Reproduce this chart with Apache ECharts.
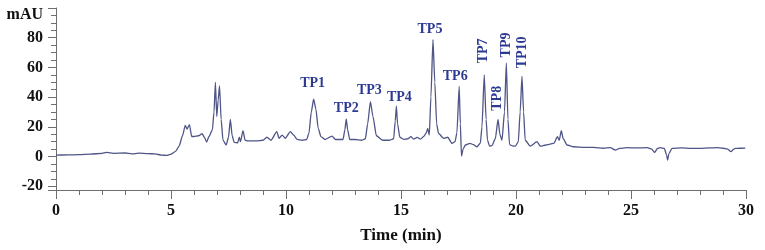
<!DOCTYPE html>
<html><head><meta charset="utf-8">
<script src="https://cdn.jsdelivr.net/npm/echarts@6/dist/echarts.min.js"></script>
<style>html,body{margin:0;padding:0;background:#fff}#c{width:765px;height:250px}#err{position:absolute;left:80px;top:0;font:10px monospace;color:red;white-space:pre}</style>
</head><body><div id="c"></div><div id="err"></div>
<script>
var errs = [];
function report(m){ errs.push(String(m)); document.getElementById('err').textContent = errs.join('\n'); }
window.onerror = function(msg){ report('E: ' + msg); };
var _ce = console.error; console.error = function(){ report('CE: ' + Array.prototype.join.call(arguments, ' ')); _ce.apply(console, arguments); };
var _cw = console.warn; console.warn = function(){ report('CW: ' + Array.prototype.join.call(arguments, ' ')); _cw.apply(console, arguments); };

// Chromatogram trace: retention time (min) and absorbance (mAU)
var times = [0,0.5,1.0,1.5,2.0,2.2,2.5,3.0,3.3,3.6,4.0,4.3,4.6,4.8,5.0,5.2,5.35,5.5,5.62,5.7,5.8,5.9,6.0,6.2,6.35,6.45,6.55,6.65,6.8,6.87,6.93,6.99,7.05,7.11,7.18,7.26,7.4,7.5,7.58,7.66,7.75,7.9,7.97,8.02,8.13,8.22,8.35,8.7,9.0,9.17,9.35,9.6,9.7,9.83,9.97,10.19,10.33,10.48,10.7,10.9,11.0,11.1,11.2,11.3,11.4,11.52,11.7,12.0,12.15,12.3,12.48,12.56,12.62,12.68,12.77,13.0,13.3,13.45,13.55,13.67,13.78,13.93,14.2,14.5,14.68,14.75,14.8,14.85,14.95,15.11,15.3,15.43,15.55,15.7,15.85,15.98,16.1,16.16,16.23,16.3,16.39,16.47,16.55,16.63,16.85,17.03,17.22,17.35,17.43,17.53,17.58,17.63,17.7,17.8,18.0,18.15,18.3,18.45,18.52,18.62,18.7,18.76,18.85,18.96,19.1,19.22,19.3,19.39,19.5,19.58,19.65,19.72,19.85,19.97,20.1,20.18,20.26,20.33,20.4,20.62,20.91,21.06,21.3,21.49,21.65,21.8,21.88,21.97,22.05,22.22,22.5,23.0,23.37,23.8,24.1,24.32,24.5,24.82,25.2,25.7,25.9,26.03,26.15,26.27,26.45,26.55,26.59,26.65,26.78,27.2,27.6,28.0,28.4,28.74,29.0,29.2,29.35,29.45,29.53,29.75,29.97];
var signal = [1.0,1.1,1.3,1.6,2.2,2.8,2.2,2.4,1.8,2.3,2.0,1.8,1.0,0.8,1.6,3.5,7,14,21,18.5,21.5,13.5,13.5,14,15.5,13,9.8,13.5,18,30,50,27,38,47.5,25,11,7.8,13,25,14,9.5,9.3,13,10,17.5,11,10.5,10.5,11,13,11,16.8,12.3,14.5,12.3,16.8,14.5,11.6,11,11.5,16,30,38.6,32,19,13.4,11.5,13.8,11.5,11.5,11.5,18,25.3,18,11.5,11.5,11,12,22,37,27,14,11,11,12,24,34,22,13,11.6,12,13.4,11.8,12.9,11.8,13.4,16,19,14.5,40,78.7,50,22,15.7,12.3,13,8.9,10,16,47.2,22,0.3,5,7.8,8.9,8,6.6,9,20,55,25,11,7,7.5,12,25,15,11,30,63,25,8,7.2,7,10,30,54,30,11,7,10,7,7.8,8.4,9,13.4,11,17.4,12,7.8,6.6,6.2,6.2,5.6,6,4.4,5.5,6,5.8,6,5,2.8,5.5,6,5.5,1,-2.4,2,5.5,5.8,5.5,5.5,5.8,6,5.6,5,3.3,4.8,5.5,5.6,5.7];

// Peak annotations
var peakNames = ['TP1','TP2','TP3','TP4','TP5','TP6','TP7','TP8','TP9','TP10'];
var peakTimes = [11.2,12.62,13.67,14.8,16.39,17.53,18.62,19.22,19.58,20.26];
var peakValues = [38.6,25.3,37,34,78.7,47.2,55,25.1,63,54];

// Axis settings
var xMin = 0, xMax = 30, xStep = 5, xMinorStep = 1;
var yMin = -22.5, yMax = 100;
var yUnit = 'mAU';
var xTitle = 'Time (min)';

var FONT = '"Liberation Serif","Times New Roman",serif';
var line = [];
for (var i = 0; i < times.length; i++) line.push([times[i], signal[i]]);

var labelOffsets = [[-1,-16],[0,-11],[-1,-11],[3,-9],[-3,-10],[-4,-10],[-0.5,-24],[-1,-21],[0,-18],[0,-24]];
var mp = peakNames.map(function(n, i){
  var rot = i >= 6;
  var o = labelOffsets[i];
  return {
    name: n, coord: [peakTimes[i], peakValues[i]], value: n,
    label: {show: true, formatter: n, position: 'inside', rotate: rot ? 90 : 0,
      offset: rot ? [-o[1], o[0]] : o, color: '#2c3a94', fontFamily: FONT, fontWeight: 'bold', fontSize: 14}
  };
});

var axisColor = '#6e6e6e';
var L = 56, T = 8, W = 690, H = 182;
// tick-only grids are enlarged so that the ticks fall inside them (drawn 'inside')
var grids = [
  {left: L, top: T, width: W, height: H},          // 0 main
  {left: L, top: T, width: W, height: H + 9},      // 1 x major ticks
  {left: L, top: T, width: W, height: H + 5},      // 2 x minor ticks
  {left: L - 8, top: T, width: W + 8, height: H},  // 3 y major ticks
  {left: L - 5, top: T, width: W + 5, height: H}   // 4 y minor ticks
];
function tickX(idx, step, len){
  return {gridIndex: idx, type: 'value', min: xMin, max: xMax, interval: step, position: 'bottom',
    axisLine: {show: false, onZero: false}, axisTick: {show: true, inside: true, length: len, lineStyle: {color: axisColor, width: 1}},
    axisLabel: {show: false}, splitLine: {show: false}};
}
function tickY(idx, withMinor, len){
  var a = {gridIndex: idx, type: 'value', min: yMin, max: yMax, position: 'left',
    axisLine: {show: false, onZero: false},
    axisTick: {show: !withMinor, inside: true, length: len, lineStyle: {color: axisColor, width: 1}},
    axisLabel: {show: false}, splitLine: {show: false}};
  if (withMinor) a.minorTick = {show: true, splitNumber: 4, length: len, lineStyle: {color: axisColor, width: 1}};
  return a;
}

try {
var chart = echarts.init(document.getElementById('c'));
chart.setOption({
  animation: false,
  grid: grids,
  xAxis: [{
    gridIndex: 0, type: 'value', min: xMin, max: xMax, interval: xStep,
    name: xTitle, nameLocation: 'middle', nameGap: 37,
    nameTextStyle: {fontFamily: FONT, fontWeight: 'bold', fontSize: 17, color: '#111'},
    axisLine: {show: true, onZero: false, lineStyle: {color: axisColor}},
    axisTick: {show: false},
    axisLabel: {margin: 13, fontFamily: FONT, fontWeight: 'bold', fontSize: 16, color: '#111'},
    splitLine: {show: false}
  },
  tickX(1, xStep, 9),
  tickX(2, xMinorStep, 5),
  {gridIndex: 3, type: 'value', min: xMin, max: xMax, show: false},
  {gridIndex: 4, type: 'value', min: xMin, max: xMax, show: false}
  ],
  yAxis: [{
    gridIndex: 0, type: 'value', min: yMin, max: yMax,
    name: yUnit, nameLocation: 'end', nameGap: -7,
    nameTextStyle: {fontFamily: FONT, fontWeight: 'bold', fontSize: 16, color: '#111', align: 'right', verticalAlign: 'middle', padding: [0, 13, 0, 0]},
    axisLine: {show: true, onZero: false, lineStyle: {color: axisColor}},
    axisTick: {show: false},
    axisLabel: {margin: 13, fontFamily: FONT, fontWeight: 'bold', fontSize: 16, color: '#111',
      formatter: function(v){ return v === yMax ? '' : String(v); }},
    splitLine: {show: false}
  },
  {gridIndex: 1, type: 'value', min: yMin, max: yMax, show: false},
  {gridIndex: 2, type: 'value', min: yMin, max: yMax, show: false},
  tickY(3, false, 8),
  tickY(4, true, 5)
  ],
  series: [{
    type: 'line', xAxisIndex: 0, yAxisIndex: 0, data: line, showSymbol: false, symbol: 'none', smooth: 0.2, smoothMonotone: 'x',
    lineStyle: {color: '#4f5587', width: 1.3},
    markPoint: {symbol: 'circle', symbolSize: 0, data: mp, silent: true}
  }]
});
} catch (e) { report('X: ' + e.message); }
</script></body></html>
